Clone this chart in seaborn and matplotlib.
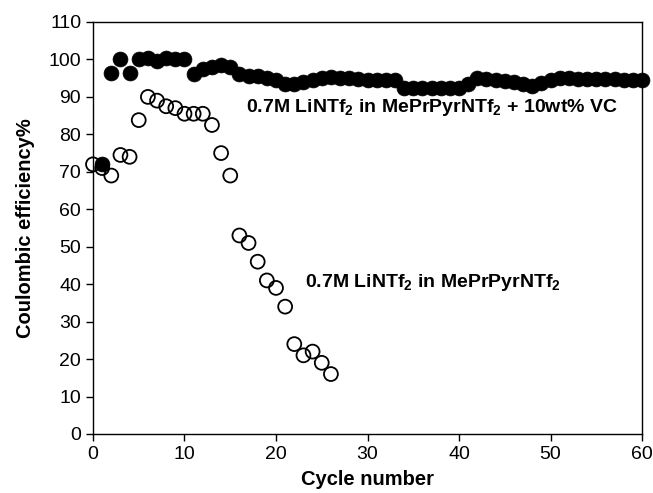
import numpy as np
import pandas as pd
import matplotlib
matplotlib.use("Agg")
import matplotlib.pyplot as plt
import seaborn as sns

# open circles: 0.7M LiNTf2 in MePrPyrNTf2
cycles_plain = list(range(0, 27))
eff_plain = [72, 71, 69, 74.5, 74, 83.8, 90, 89, 87.5, 87, 85.5, 85.5, 85.5, 82.5,
             75, 69, 53, 51, 46, 41, 39, 34, 24, 21, 22, 19, 16]

# filled circles: + 10wt% VC
cycles_vc = list(range(1, 61))
eff_vc = [72, 96.5, 100, 96.5, 100, 100.5, 99.5, 100.5, 100, 100,
          96, 97.5, 98, 98.5, 98, 96, 95.5, 95.5, 95, 94.5,
          93.5, 93.5, 94, 94.5, 95, 95.3, 95, 95, 94.8, 94.6,
          94.5, 94.5, 94.5, 92.5, 92.3, 92.3, 92.3, 92.3, 92.3, 92.5,
          93.5, 95, 94.8, 94.5, 94.3, 94, 93.5, 92.8, 93.8, 94.6,
          95, 95, 94.8, 94.8, 94.8, 94.8, 94.8, 94.6, 94.6, 94.5]

df_plain = pd.DataFrame({"cycle": cycles_plain, "eff": eff_plain})
df_vc = pd.DataFrame({"cycle": cycles_vc, "eff": eff_vc})

sns.set_style("ticks")
plt.rcParams['font.family'] = ['Liberation Sans', 'DejaVu Sans']
plt.rcParams['mathtext.fontset'] = 'custom'
plt.rcParams['mathtext.rm'] = 'Liberation Sans'
plt.rcParams['mathtext.bf'] = 'Liberation Sans:bold'
plt.rcParams['text.color'] = 'black'
plt.rcParams['axes.labelcolor'] = 'black'
plt.rcParams['xtick.color'] = 'black'
plt.rcParams['ytick.color'] = 'black'

fig = plt.figure(figsize=(6.53, 4.93), dpi=100)
ax = fig.add_axes([0.1424, 0.1197, 0.8408, 0.8357])

sns.scatterplot(data=df_plain, x="cycle", y="eff", ax=ax, s=100,
                facecolor="none", edgecolor="black", linewidth=1.3, zorder=3,
                clip_on=False)
sns.scatterplot(data=df_vc, x="cycle", y="eff", ax=ax, s=115,
                color="black", edgecolor="black", linewidth=0.5, zorder=4,
                clip_on=False)

ax.text(16.7, 87.3, r"0.7M LiNTf$_\mathbf{2}$ in MePrPyrNTf$_\mathbf{2}$ + 10wt% VC",
        fontsize=14, fontweight="bold", va="center", ha="left")
ax.text(23.2, 40.4, r"0.7M LiNTf$_\mathbf{2}$ in MePrPyrNTf$_\mathbf{2}$",
        fontsize=14, fontweight="bold", va="center", ha="left")

ax.set_xlim(0, 60)
ax.set_ylim(0, 110)
ax.set_xticks(range(0, 61, 10))
ax.set_yticks(range(0, 111, 10))
ax.tick_params(direction="out", length=5, width=1, labelsize=14, color="black",
               labelcolor="black")
for sp in ax.spines.values():
    sp.set_visible(True)
    sp.set_linewidth(1.0)
    sp.set_color("black")

ax.set_xlabel("Cycle number", fontsize=14.5, fontweight="bold", labelpad=5)
ax.set_ylabel("Coulombic efficiency%", fontsize=14.5, fontweight="bold", labelpad=10)

fig.savefig("out.png", dpi=100)
